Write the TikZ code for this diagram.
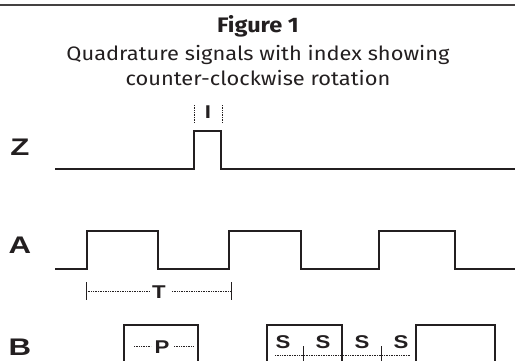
\documentclass[tikz,border=0pt]{standalone}
\usepackage{fontspec}
\setmainfont{Fira Sans}[FakeStretch=1.12]
\newfontfamily\labfont{Liberation Sans}[FakeStretch=1.2]
\newfontfamily\siglabfont{Liberation Sans}[FakeStretch=1.3]
\definecolor{ink}{HTML}{231F20}
\begin{document}
\begin{tikzpicture}[x=1pt,y=-1pt,
  wave/.style={line width=2.6pt, draw=ink, line join=miter},
  dots/.style={draw=ink, line width=0.8pt, dash pattern=on 0.8pt off 0.9pt},
  thin/.style={draw=ink, line width=1pt},
  siglabel/.style={text=ink, font=\siglabfont\bfseries\fontsize{24}{26}\selectfont, inner sep=0pt},
  smalllabel/.style={text=ink, font=\labfont\bfseries\fontsize{18.5}{20}\selectfont, inner sep=2pt},
  titletext/.style={text=ink, inner sep=0pt, align=center}]
\useasboundingbox (0,0) rectangle (515,360);
\clip (0,0) rectangle (515,360);
% top rule
\draw[draw=ink!85, line width=1.5pt] (0,5) -- (515,5);
% title
\node[titletext, font=\bfseries\fontsize{21}{23}\selectfont] (fig) at (258,26) {Figure 1};
\node[titletext, font=\fontsize{19.5}{25}\selectfont] (sub) at (258,66)
  {Quadrature signals with index showing\\counter-clockwise rotation};
% signal labels
\node[siglabel] (lz) at (20,147) {Z};
\node[siglabel] (la) at (20,245) {A};
\node[siglabel] (lb) at (20,347) {B};
% Z signal
\draw[wave] (55,169) -- (194,169) -- (194,131) -- (221,131) -- (221,169) -- (515,169);
% index marker
\coordinate (i1t) at (194,105); \coordinate (i1b) at (194,123);
\coordinate (i2t) at (222,105); \coordinate (i2b) at (222,123);
\draw[dots] (i1t) -- (i1b);
\draw[dots] (i2t) -- (i2b);
\node[smalllabel] (li) at (208,112) {I};
% A signal
\draw[wave] (55,269) -- (87,269) -- (87,231) -- (158,231) -- (158,269) -- (229,269) -- (229,231)
  -- (301,231) -- (301,269) -- (379,269) -- (379,231) -- (455,231) -- (455,269) -- (515,269);
% period T
\coordinate (tl1) at (86,282); \coordinate (tl2) at (86,300);
\coordinate (tr1) at (231,282); \coordinate (tr2) at (231,300);
\draw[thin] (tl1) -- (tl2);
\draw[thin] (tr1) -- (tr2);
\node[smalllabel, inner sep=0pt] (lt) at (159,292) {T};
\coordinate (tlm) at (86,291); \coordinate (trm) at (231,291);
\coordinate (tla) at (149,291); \coordinate (tra) at (172,291);
\draw[dots] (tlm) -- (tla);
\draw[dots] (tra) -- (trm);
% B signal
\draw[wave] (124,370) -- (124,325) -- (198,325) -- (198,370);
\draw[wave] (267,370) -- (267,325) -- (342,325) -- (342,370);
\draw[wave] (416,370) -- (416,325) -- (495,325) -- (495,370);
% P
\node[smalllabel, inner sep=0pt] (lp) at (162,347) {P};
\coordinate (p1) at (134,346); \coordinate (p2) at (151,346);
\coordinate (p3) at (174,346); \coordinate (p4) at (193,346);
\draw[dots] (p1) -- (p2);
\draw[dots] (p3) -- (p4);
% S
\node[smalllabel, inner sep=0pt] (s1) at (283,342) {S};
\node[smalllabel, inner sep=0pt] (s2) at (323,342) {S};
\node[smalllabel, inner sep=0pt] (s3) at (362,342) {S};
\node[smalllabel, inner sep=0pt] (s4) at (401,342) {S};
\coordinate (sa) at (275,355); \coordinate (sb) at (410,355);
\draw[dots] (sa) -- (sb);
\coordinate (k1t) at (303,346); \coordinate (k1b) at (303,362);
\coordinate (k2t) at (381,346); \coordinate (k2b) at (381,362);
\draw[thin] (k1t) -- (k1b);
\draw[thin] (k2t) -- (k2b);
\end{tikzpicture}
\end{document}
